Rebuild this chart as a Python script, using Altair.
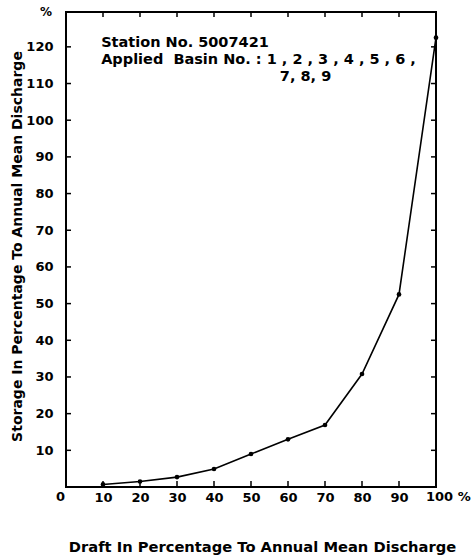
import altair as alt
import pandas as pd

draft = [10, 20, 30, 40, 50, 60, 70, 80, 90, 100]
storage = [0.7, 1.5, 2.7, 4.9, 9.0, 13.0, 16.9, 30.8, 52.5, 122.5]
x_ticks = [10, 20, 30, 40, 50, 60, 70, 80, 90]
y_ticks = [10, 20, 30, 40, 50, 60, 70, 80, 90, 100, 110, 120]
NB = "\u00a0"
note_lines = ["Station No. 5007421",
              "Applied" + NB * 2 + "Basin No. : 1 , 2 , 3 , 4 , 5 , 6 ,",
              "7, 8, 9"]
note_x = [9.5, 9.5, 57.8]
note_y = [121.0, 116.5, 111.8]

FONT = "DejaVu Sans"
W, H = 370, 475

df = pd.DataFrame({"draft": draft, "storage": storage})
xt = pd.DataFrame({"v": x_ticks})
yt = pd.DataFrame({"v": y_ticks})
notes = pd.DataFrame({"t": note_lines, "x": note_x, "y": note_y})
corner = pd.DataFrame({"x": [0, 100], "y": [0, 0], "t": ["0", "100 %"]})

xs = alt.Scale(domain=[0, 100], nice=False, zero=False)
ys = alt.Scale(domain=[0, 129.5], nice=False, zero=False)

line = alt.Chart(df).mark_line(color="black", strokeWidth=1.6).encode(
    x=alt.X("draft:Q", scale=xs, axis=alt.Axis(
        values=x_ticks, grid=False, domain=False, ticks=False,
        labelFont=FONT, labelFontWeight="bold", labelFontSize=13, labelColor="black",
        labelPadding=4,
        title="Draft In Percentage To Annual Mean Discharge",
        titleFont=FONT, titleFontWeight="bold", titleFontSize=14.7, titleColor="black",
        titleBaseline="middle", titleX=196, titleY=60)),
    y=alt.Y("storage:Q", scale=ys, axis=alt.Axis(
        values=y_ticks, grid=False, domain=False, ticks=False,
        labelFont=FONT, labelFontWeight="bold", labelFontSize=13, labelColor="black",
        labelPadding=13,
        title="Storage In Percentage To Annual Mean Discharge",
        titleFont=FONT, titleFontWeight="bold", titleFontSize=14, titleColor="black",
        titleBaseline="middle", titleX=-49, titleY=234)),
)
pts = alt.Chart(df).mark_point(filled=True, color="black", size=22, opacity=1).encode(
    x=alt.X("draft:Q", scale=xs), y=alt.Y("storage:Q", scale=ys))

bot_ticks = alt.Chart(xt).mark_rule(color="black", strokeWidth=1.5).encode(
    x=alt.X("v:Q", scale=xs), y=alt.value(H), y2=alt.value(H - 6))
top_ticks = alt.Chart(xt).mark_rule(color="black", strokeWidth=1.5).encode(
    x=alt.X("v:Q", scale=xs), y=alt.value(0), y2=alt.value(5))
left_ticks = alt.Chart(yt).mark_rule(color="black", strokeWidth=1.5).encode(
    y=alt.Y("v:Q", scale=ys), x=alt.value(0), x2=alt.value(5))
right_ticks = alt.Chart(yt).mark_rule(color="black", strokeWidth=1.5).encode(
    y=alt.Y("v:Q", scale=ys), x=alt.value(W), x2=alt.value(W - 5))

note_text = alt.Chart(notes).mark_text(
    align="left", baseline="middle", font=FONT, fontWeight="bold", fontSize=14.5, color="black"
).encode(x=alt.X("x:Q", scale=xs), y=alt.Y("y:Q", scale=ys), text="t:N")

corner_text = alt.Chart(corner).mark_text(
    align="left", baseline="top", font=FONT, fontWeight="bold", fontSize=13, color="black", dx=-10, dy=4
).encode(x=alt.X("x:Q", scale=xs), y=alt.Y("y:Q", scale=ys), text="t:N")

pct = alt.Chart(pd.DataFrame({"y": [129.5], "t": ["%"]})).mark_text(
    align="center", baseline="middle", font=FONT, fontWeight="bold", fontSize=12, color="black", dx=-20
).encode(x=alt.value(0), y=alt.Y("y:Q", scale=ys), text="t:N")

chart = alt.layer(line, pts, bot_ticks, top_ticks, left_ticks, right_ticks,
                  note_text, corner_text, pct).properties(
    width=W, height=H,
    background="white",
    autosize=alt.AutoSizeParams(type="none"),
    padding={"left": 66, "top": 12, "right": 35, "bottom": 73},
).configure_view(stroke="black", strokeWidth=2)

chart.save("out.html", embed_options={"renderer": "svg", "actions": False})
